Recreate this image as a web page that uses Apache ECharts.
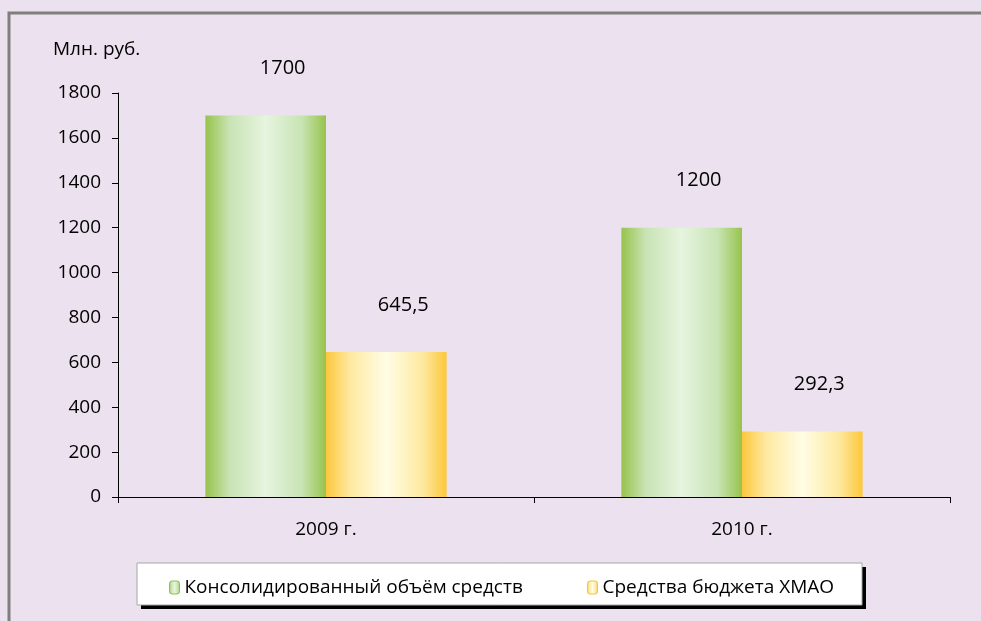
<!DOCTYPE html>
<html><head><meta charset="utf-8">
<script src="https://cdn.jsdelivr.net/npm/echarts@6/dist/echarts.min.js"></script>
<style>html,body{margin:0;padding:0;background:#ece1ee;}#c{width:981px;height:621px;}</style>
</head><body><div id="c"></div>
<script>
var categories = ['2009 г.', '2010 г.'];
var seriesNames = ['Консолидированный объём средств', 'Средства бюджета ХМАО'];
var consolidated = [1700, 1200];
var budgetHMAO = [645.5, 292.3];
var yTicks = [0, 200, 400, 600, 800, 1000, 1200, 1400, 1600, 1800];
var unitLabel = 'Млн. руб.';

var FONT = 'Open Sans';
var FS = 19;
function grad(edge, mid, center) {
  return new echarts.graphic.LinearGradient(0, 0, 1, 0, [
    {offset: 0, color: edge}, {offset: 0.2, color: mid}, {offset: 0.5, color: center},
    {offset: 0.8, color: mid}, {offset: 1, color: edge}
  ]);
}
var greenFill = grad('#97c34b', '#c8e3b4', '#e6f5df');
var yellowFill = grad('#fcc73c', '#fee9a0', '#fffde6');
function fmt(p) { return String(p.value).replace('.', ','); }

var chart = echarts.init(document.getElementById('c'));
chart.setOption({
  backgroundColor: '#ece1ee',
  animation: false,
  textStyle: {fontFamily: FONT},
  graphic: [
    {type: 'rect', shape: {x: 9, y: 13, width: 1000, height: 700}, style: {fill: 'none', stroke: '#7f7f7f', lineWidth: 3}, z: 0},
    {type: 'rect', shape: {x: 141, y: 567, width: 725, height: 42}, style: {fill: '#000'}, z: 1},
    {type: 'rect', shape: {x: 137, y: 563, width: 725, height: 42}, style: {fill: '#fff', stroke: '#a6a6a6', lineWidth: 1}, z: 2},
    {type: 'text', left: 53, top: 40, style: {text: unitLabel, font: FS + 'px "' + FONT + '"', fill: '#000'}, z: 3}
  ],
  grid: {left: 118, right: 31, top: 93, bottom: 124},
  legend: [
    {data: [seriesNames[0]], left: 164, top: 573, itemWidth: 10, itemHeight: 13, itemGap: 8, z: 5,
     itemStyle: {borderColor: '#8fbf45', borderWidth: 1},
     textStyle: {fontSize: FS, color: '#000', fontFamily: FONT}},
    {data: [seriesNames[1]], left: 582, top: 573, itemWidth: 10, itemHeight: 13, itemGap: 8, z: 5,
     itemStyle: {borderColor: '#f8c232', borderWidth: 1},
     textStyle: {fontSize: FS, color: '#000', fontFamily: FONT}}
  ],
  xAxis: {
    type: 'category', data: categories,
    axisLine: {lineStyle: {color: '#000', width: 1}},
    axisTick: {show: true, length: 6, lineStyle: {color: '#000'}},
    axisLabel: {color: '#000', fontSize: FS, margin: 23, fontFamily: FONT}
  },
  yAxis: {
    type: 'value', min: yTicks[0], max: yTicks[yTicks.length - 1], interval: 200,
    splitLine: {show: false},
    axisLine: {show: true, lineStyle: {color: '#000', width: 1}},
    axisTick: {show: true, length: 6, lineStyle: {color: '#000'}},
    axisLabel: {color: '#000', fontSize: FS, margin: 17, fontFamily: FONT, formatter: function (v) { return String(v); }}
  },
  series: [
    {name: seriesNames[0], type: 'bar', data: consolidated, barGap: '0%', barCategoryGap: '42%',
     itemStyle: {color: greenFill},
     label: {show: true, position: 'top', distance: 37, offset: [17, 0], color: '#000', fontSize: FS + 1, formatter: fmt, fontFamily: FONT}},
    {name: seriesNames[1], type: 'bar', data: budgetHMAO, barGap: '0%', barCategoryGap: '42%',
     itemStyle: {color: yellowFill},
     label: {show: true, position: 'top', distance: 37, offset: [17, 0], color: '#000', fontSize: FS + 1, formatter: fmt, fontFamily: FONT}}
  ]
});
</script></body></html>
